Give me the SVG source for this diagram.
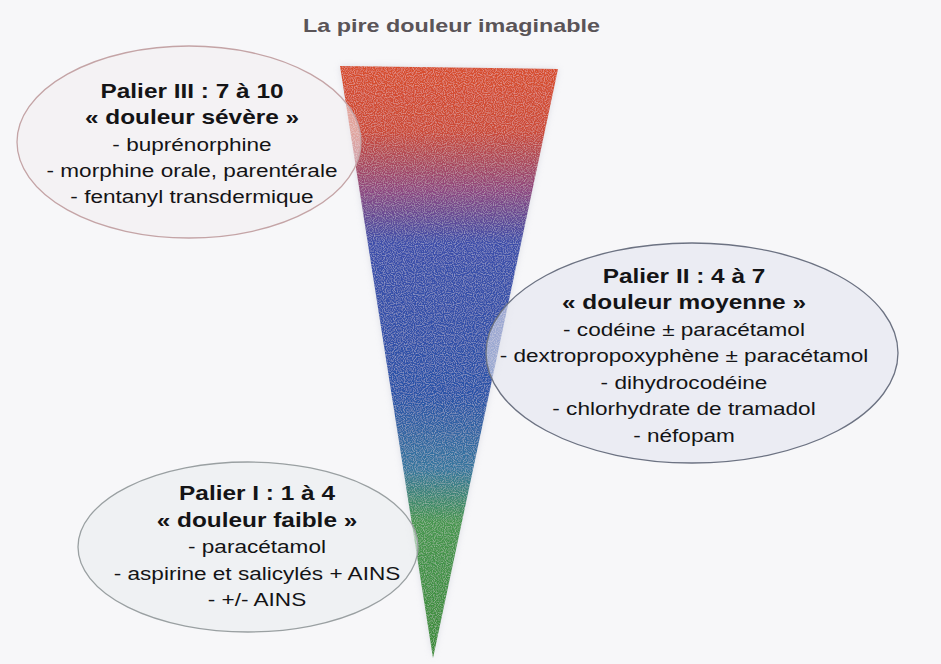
<svg xmlns="http://www.w3.org/2000/svg" width="941" height="664" viewBox="0 0 941 664">
  <defs>
    <linearGradient id="painGrad" x1="0" y1="66" x2="0" y2="658" gradientUnits="userSpaceOnUse">
      <stop offset="0" stop-color="#d84e2c"/>
      <stop offset="0.11" stop-color="#cc4a36"/>
      <stop offset="0.21" stop-color="#8e4680"/>
      <stop offset="0.3" stop-color="#3c4eaa"/>
      <stop offset="0.55" stop-color="#2a52a8"/>
      <stop offset="0.68" stop-color="#35769e"/>
      <stop offset="0.77" stop-color="#46964f"/>
      <stop offset="1" stop-color="#3c8c38"/>
    </linearGradient>
    <filter id="halo" x="-20%" y="-10%" width="140%" height="120%">
      <feGaussianBlur stdDeviation="3"/>
    </filter>
    <filter id="grain" x="0" y="0" width="100%" height="100%">
      <feTurbulence type="fractalNoise" baseFrequency="0.9" numOctaves="1" seed="3" result="n"/>
      <feColorMatrix in="n" type="matrix" values="0 0 0 0 1  0 0 0 0 1  0 0 0 0 1  0 0 0 0.7 -0.3" result="w"/>
      <feComposite in="w" in2="SourceGraphic" operator="in" result="wm"/>
      <feMerge><feMergeNode in="SourceGraphic"/><feMergeNode in="wm"/></feMerge>
    </filter>
  </defs>
  <style>
    .t { font-family: "Liberation Sans", Arial, sans-serif; fill: #141416; text-anchor: middle; font-size: 18.5px; }
    .b { font-weight: bold; font-size: 20px; }
    .title { font-family: "Liberation Sans", Arial, sans-serif; font-weight: bold; font-size: 19px; fill: #5a5458; text-anchor: middle; }
    .ell { stroke-width: 1.3; }
  </style>
  <rect width="941" height="664" fill="#f7f7f9"/>

  <g id="title">
    <text class="title" x="451.5" y="32" textLength="297" lengthAdjust="spacingAndGlyphs">La pire douleur imaginable</text>
  </g>

  <g id="pain-scale">
    <polygon points="340,66 558,69 433,658" fill="#c8cad6" opacity="0.6" filter="url(#halo)"/>
    <polygon points="340,66 558,69 433,658" fill="url(#painGrad)" filter="url(#grain)"/>
  </g>

  <g id="palier-3">
    <ellipse class="ell" cx="189" cy="142" rx="172" ry="96" fill="#f2eff1" fill-opacity="0.55" stroke="#c4a4a6"/>
    <g transform="translate(192,0) scale(1.22,1)">
      <text class="t b" x="0" y="98">Palier III : 7 à 10</text>
      <text class="t b" x="0" y="124.5">« douleur sévère »</text>
      <text class="t" x="0" y="151">- buprénorphine</text>
      <text class="t" x="0" y="177">- morphine orale, parentérale</text>
      <text class="t" x="0" y="203">- fentanyl transdermique</text>
    </g>
  </g>

  <g id="palier-2">
    <ellipse class="ell" cx="692" cy="353" rx="206" ry="110" fill="#e2e5ee" fill-opacity="0.6" stroke="#6c7282"/>
    <g transform="translate(684,0) scale(1.22,1)">
      <text class="t b" x="0" y="283">Palier II : 4 à 7</text>
      <text class="t b" x="0" y="309.5">« douleur moyenne »</text>
      <text class="t" x="0" y="336">- codéine ± paracétamol</text>
      <text class="t" x="0" y="362.5">- dextropropoxyphène ± paracétamol</text>
      <text class="t" x="0" y="389">- dihydrocodéine</text>
      <text class="t" x="0" y="415.5">- chlorhydrate de tramadol</text>
      <text class="t" x="0" y="442">- néfopam</text>
    </g>
  </g>

  <g id="palier-1">
    <ellipse class="ell" cx="248" cy="547" rx="170" ry="85" fill="#e9ecee" fill-opacity="0.6" stroke="#9aa0a2"/>
    <g transform="translate(257,0) scale(1.22,1)">
      <text class="t b" x="0" y="500">Palier I : 1 à 4</text>
      <text class="t b" x="0" y="527">« douleur faible »</text>
      <text class="t" x="0" y="553">- paracétamol</text>
      <text class="t" x="0" y="580">- aspirine et salicylés + AINS</text>
      <text class="t" x="0" y="606">- +/- AINS</text>
    </g>
  </g>
</svg>
